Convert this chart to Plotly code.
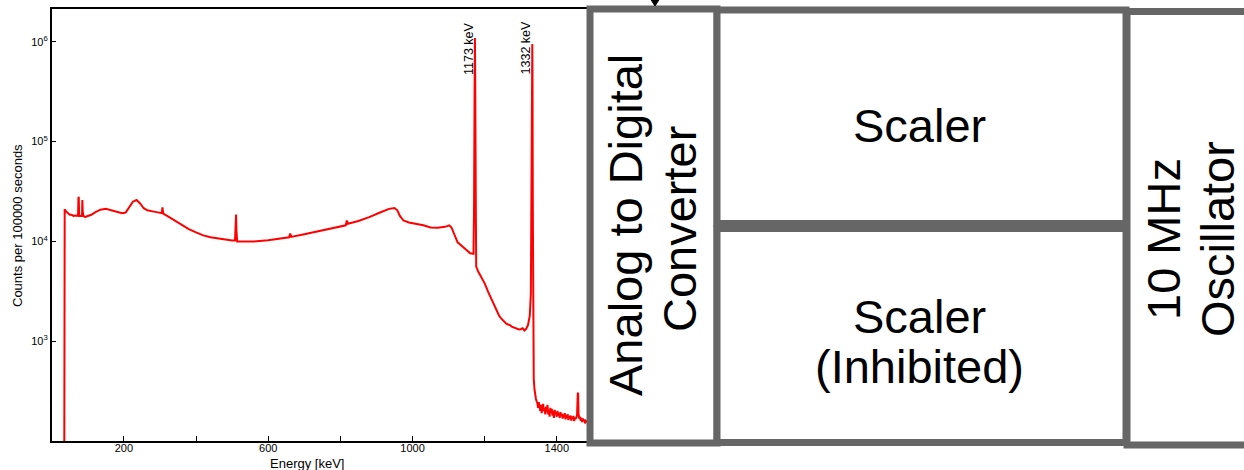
import plotly.graph_objects as go

# ---- spectrum data (Co-60 source, counts per 100000 s) ----
energy_kev = [
    34, 35, 36, 40, 45, 50, 55, 60, 65, 70, 73, 74, 75, 76, 78, 84, 85, 86, 88, 93,
    100, 110, 120, 135, 150, 165, 180, 195, 205, 215, 225, 235, 245, 255, 265, 280,
    295, 305, 307, 309, 320, 340, 360, 380, 400, 420, 440, 460, 480, 500, 508, 510,
    511, 512, 514, 530, 560, 600, 640, 658, 661, 664, 700, 740, 780, 815, 818, 821,
    850, 880, 910, 935, 950, 958, 965, 975, 990, 1000, 1030, 1050, 1070, 1090, 1102,
    1108, 1115, 1125, 1140, 1160, 1169, 1170.5, 1172, 1173, 1174, 1175.5, 1176.5,
    1182, 1190, 1200, 1210, 1220, 1230, 1240, 1245, 1250, 1255, 1260, 1265, 1270,
    1275, 1280, 1285, 1290, 1295, 1300, 1305, 1310, 1315, 1320, 1325, 1328, 1330.5,
    1331.5, 1332, 1332.5, 1333.5, 1335, 1336, 1338, 1340, 1342, 1344, 1346, 1348,
    1350, 1352, 1354, 1356, 1358, 1360, 1362, 1364, 1366, 1368, 1370, 1372, 1374,
    1376, 1378, 1380, 1382, 1384, 1386, 1388, 1390, 1392, 1394, 1396, 1398, 1400,
    1402, 1404, 1406, 1408, 1410, 1412, 1414, 1416, 1418, 1420, 1422, 1424, 1426,
    1428, 1430, 1432, 1434, 1436, 1438, 1440, 1442, 1444, 1446, 1448, 1450, 1452,
    1454, 1456, 1458, 1459, 1460, 1462, 1464, 1466, 1468, 1470, 1472, 1474, 1476,
    1478, 1480, 1485, 1490,
]
counts = [
    1, 4600, 21000, 20000, 19000, 18500, 18500, 18000, 18200, 18000, 18000, 27000,
    28000, 18500, 18000, 18000, 26000, 20000, 18000, 17500,
    18000, 18500, 19500, 20800, 21200, 20500, 19800, 19200, 19500, 22000, 25000,
    26000, 24000, 21500, 20500, 20000,
    19700, 19200, 22000, 19000, 18000, 16200, 14500, 13300, 12300, 11500, 11000,
    10700, 10400, 10200, 10200, 17000,
    18600, 13000, 10000, 10000, 10000, 10300, 10700, 11000, 12000, 11100, 11800,
    12700, 13500, 14500, 16200, 15000,
    16000, 17500, 19500, 21200, 21600, 20500, 18000, 16200, 15500, 15300, 14500,
    13800, 13700, 14000, 14500,
    13800, 11800, 9800, 8800, 7600, 7500, 20000, 300000, 1090000, 300000, 20000,
    5600,
    5000, 4400, 3800, 3100, 2550, 2100, 1800, 1700, 1620, 1560, 1500, 1470, 1450,
    1400, 1380, 1360, 1340, 1310, 1320, 1350, 1280, 1330, 1450, 1800, 3000, 40000,
    500000, 950000, 500000, 20000, 600, 420, 330, 285, 265, 250, 240, 215,
    245, 225, 200, 230, 190, 215, 235, 200, 215, 185, 220, 195, 230,
    185, 205, 175, 215, 190, 210, 180, 200, 170, 205, 185, 195, 175,
    200, 180, 190, 170, 195, 178, 188, 168, 185, 172, 190, 165, 180,
    170, 186, 162, 178, 168, 180, 160, 175, 165, 178, 158, 172, 166,
    175, 180, 300, 305, 190, 168, 175, 160, 170, 155, 168, 158, 165,
    150, 160, 155, 150,
]

peak_energies = [1173, 1332]
peak_labels = ["1173 keV", "1332 keV"]

x_tick_vals = [200, 600, 1000, 1400]
x_tick_text = ["200", "600", "1000", "1400"]
x_minor_vals = [400, 800, 1200, 1600]
y_tick_vals = [1e3, 1e4, 1e5, 1e6]
y_tick_text = ["10<sup>3</sup>", "10<sup>4</sup>", "10<sup>5</sup>", "10<sup>6</sup>"]

x_title = "Energy [keV]"
y_title = "Counts per 100000 seconds"

# ---- block diagram labels ----
adc_lines = ["Analog to Digital", "Converter"]
scaler_label = "Scaler"
inhibited_lines = ["Scaler", "(Inhibited)"]
oscillator_lines = ["10 MHz", "Oscillator"]

W, H = 1244, 470
FONT = "Liberation Sans, Arial, Helvetica, sans-serif"
GREY = "#666666"


def px(x):
    return x / W


def py(y):
    return 1 - y / H


fig = go.Figure()
fig.add_trace(go.Scatter(
    x=energy_kev, y=counts, mode="lines",
    line=dict(color="#ff0000", width=2),
    hoverinfo="skip", showlegend=False,
))

axis_common = dict(
    showline=True, linecolor="black", linewidth=1.5, mirror=True,
    ticks="inside", ticklen=5, tickwidth=1, tickcolor="black",
    showgrid=False, zeroline=False,
    tickfont=dict(family=FONT, size=11, color="black"),
)

fig.update_layout(
    width=W, height=H,
    margin=dict(l=0, r=0, t=0, b=0),
    paper_bgcolor="white", plot_bgcolor="white",
    showlegend=False,
    xaxis=dict(
        domain=[px(51.7), px(629)], range=[0, 1600],
        tickmode="array", tickvals=x_tick_vals, ticktext=x_tick_text,
        ticklabelstandoff=-4,
        minor=dict(tickmode="array", tickvals=x_minor_vals, ticks="inside",
                   ticklen=5, tickwidth=1, tickcolor="black", showgrid=False),
        **axis_common,
    ),
    yaxis=dict(
        type="log", domain=[py(441), py(9.3)], range=[2, 6.326],
        tickmode="array", tickvals=y_tick_vals, ticktext=y_tick_text,
        **axis_common,
    ),
)

annotations = []

# axis titles
annotations.append(dict(
    xref="paper", yref="paper", x=px(307), y=py(463), text=x_title,
    showarrow=False, xanchor="center", yanchor="middle",
    font=dict(family=FONT, size=13, color="black"),
))
annotations.append(dict(
    xref="paper", yref="paper", x=px(18), y=py(226), text=y_title,
    showarrow=False, xanchor="center", yanchor="middle", textangle=-90,
    font=dict(family=FONT, size=13, color="black"),
))

# peak labels, placed beside each photopeak
for e, lab in zip(peak_energies, peak_labels):
    annotations.append(dict(
        xref="x", yref="y", x=e, y=5.937, text=lab, showarrow=False,
        xanchor="center", yanchor="middle", textangle=-90, xshift=-6,
        font=dict(family=FONT, size=12.5, color="black"),
    ))

# ---- block diagram ----
shapes = []
boxes = [
    (590, 9, 717, 443),        # ADC
    (717, 10, 1126, 223.5),    # Scaler
    (717, 228.5, 1126, 442.5), # Scaler (Inhibited)
    (1127, 11.5, 1270, 445),   # Oscillator
]
for x0, y0, x1, y1 in boxes:
    shapes.append(dict(
        type="rect", xref="paper", yref="paper",
        x0=px(x0), x1=px(x1), y0=py(y1), y1=py(y0),
        line=dict(color=GREY, width=7), fillcolor="white", layer="above",
    ))

# incoming signal arrow head on top of the ADC
shapes.append(dict(
    type="path", xref="paper", yref="paper",
    path=f"M {px(650.5)},{py(-1)} L {px(659.5)},{py(-1)} L {px(655)},{py(6)} Z",
    fillcolor="black", line=dict(color="black", width=1), layer="above",
))

big = dict(family=FONT, size=47, color="black")


def block_text(x, y, text, angle=0):
    annotations.append(dict(
        xref="paper", yref="paper", x=px(x), y=py(y), text=text,
        showarrow=False, xanchor="center", yanchor="middle",
        textangle=angle, font=big,
    ))


block_text(625, 225, adc_lines[0], -90)
block_text(679, 229, adc_lines[1], -90)
block_text(919, 125, scaler_label)
block_text(919, 316, inhibited_lines[0])
block_text(919, 366, inhibited_lines[1])
block_text(1163, 239, oscillator_lines[0], -90)
block_text(1217, 239, oscillator_lines[1], -90)

fig.update_layout(shapes=shapes, annotations=annotations)

fig.write_html("out.html", config={"displayModeBar": False})
